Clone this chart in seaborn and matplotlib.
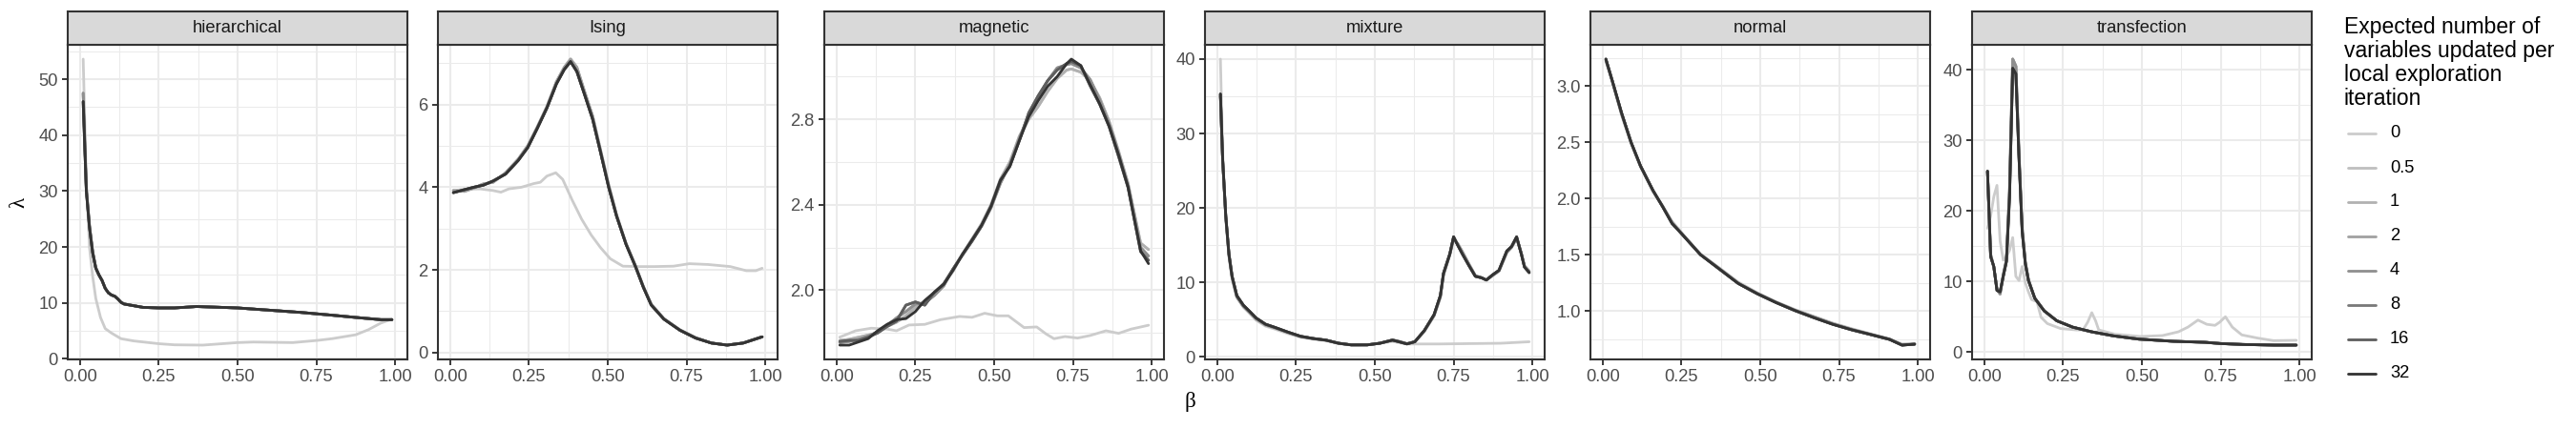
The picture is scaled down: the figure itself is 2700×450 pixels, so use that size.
import numpy as np
import pandas as pd
import matplotlib
matplotlib.use("Agg")
import matplotlib.pyplot as plt
import seaborn as sns
from matplotlib.lines import Line2D

sns.set_theme(style="white")
plt.rcParams['font.family'] = ['Liberation Sans', 'DejaVu Sans']

# ---------------- data ----------------
SERIES = ["0", "0.5", "1", "2", "4", "8", "16", "32"]
PANELS = ["hierarchical", "Ising", "magnetic", "mixture", "normal", "transfection"]
GREYS = ["#CCCCCC", "#BFBFBF", "#B1B1B1", "#A1A1A1", "#8F8F8F", "#797979", "#5E5E5E", "#333333"]
LEGEND_TITLE = "Expected number of\nvariables updated per\nlocal exploration\niteration"

# hierarchical
HIER_X0 = [0.01, 0.02, 0.03, 0.04, 0.05, 0.065, 0.08, 0.10, 0.13, 0.17, 0.25, 0.30, 0.39, 0.50, 0.55, 0.675, 0.755, 0.80, 0.875, 0.915, 0.955, 0.99]
HIER_Y0 = [53.6, 32.0, 20.0, 14.8, 10.8, 7.4, 5.4, 4.6, 3.6, 3.2, 2.7, 2.5, 2.45, 2.9, 3.0, 2.9, 3.3, 3.6, 4.3, 5.2, 6.4, 7.1]
HIER_X = [0.01, 0.02, 0.03, 0.04, 0.05, 0.06, 0.07, 0.08, 0.09, 0.10, 0.11, 0.12, 0.13, 0.14, 0.16, 0.18, 0.20, 0.25, 0.30, 0.37, 0.45, 0.50, 0.60, 0.70, 0.80, 0.875, 0.955, 0.99]
HIER_YMID = [47.5, 30.5, 23.8, 19.2, 16.3, 15.0, 14.0, 12.6, 11.8, 11.4, 11.2, 10.7, 10.1, 9.8, 9.6, 9.4, 9.2, 9.1, 9.1, 9.35, 9.2, 9.1, 8.7, 8.3, 7.8, 7.4, 7.0, 7.0]
HIER_Y32 = [46.0, 30.0, 23.5, 19.0, 16.2, 15.0, 14.0, 12.6, 11.8, 11.4, 11.2, 10.7, 10.1, 9.8, 9.6, 9.4, 9.2, 9.1, 9.1, 9.35, 9.2, 9.1, 8.7, 8.3, 7.8, 7.4, 7.0, 7.0]

# Ising
ISING_X0 = [0.01, 0.045, 0.095, 0.136, 0.161, 0.186, 0.226, 0.266, 0.286, 0.307, 0.335, 0.357, 0.387, 0.417, 0.447, 0.477, 0.508, 0.548, 0.598, 0.648, 0.709, 0.759, 0.819, 0.889, 0.94, 0.97, 0.99]
ISING_Y0 = [3.92, 3.95, 3.96, 3.92, 3.88, 3.96, 4.0, 4.09, 4.12, 4.27, 4.35, 4.19, 3.69, 3.23, 2.85, 2.54, 2.27, 2.09, 2.08, 2.08, 2.09, 2.15, 2.13, 2.08, 1.98, 1.98, 2.04]
ISING_X = [0.01, 0.045, 0.075, 0.105, 0.136, 0.176, 0.216, 0.246, 0.276, 0.307, 0.337, 0.362, 0.382, 0.402, 0.427, 0.452, 0.477, 0.503, 0.528, 0.558, 0.588, 0.613, 0.638, 0.678, 0.729, 0.779, 0.829, 0.879, 0.93, 0.99]
ISING_YMID = [3.92, 3.90, 3.98, 4.08, 4.12, 4.35, 4.68, 5.0, 5.45, 5.95, 6.55, 6.9, 7.1, 6.9, 6.3, 5.72, 4.9, 4.05, 3.33, 2.64, 2.1, 1.6, 1.17, 0.82, 0.55, 0.36, 0.23, 0.18, 0.23, 0.38]
ISING_Y32 = [3.87, 3.94, 4.0, 4.05, 4.15, 4.32, 4.65, 4.96, 5.42, 5.92, 6.5, 6.85, 7.04, 6.8, 6.23, 5.65, 4.85, 4.0, 3.3, 2.62, 2.08, 1.58, 1.15, 0.81, 0.54, 0.35, 0.23, 0.18, 0.23, 0.38]

# magnetic
MAG_X0 = [0.01, 0.06, 0.11, 0.16, 0.19, 0.23, 0.28, 0.33, 0.39, 0.43, 0.47, 0.51, 0.545, 0.595, 0.635, 0.665, 0.69, 0.725, 0.765, 0.805, 0.855, 0.895, 0.935, 0.99]
MAG_Y0 = [1.78, 1.81, 1.822, 1.818, 1.81, 1.837, 1.84, 1.862, 1.877, 1.873, 1.892, 1.88, 1.88, 1.825, 1.828, 1.795, 1.773, 1.783, 1.776, 1.788, 1.81, 1.798, 1.818, 1.836]
MAG_X = [0.01, 0.04, 0.07, 0.10, 0.13, 0.16, 0.19, 0.22, 0.25, 0.28, 0.31, 0.34, 0.37, 0.40, 0.43, 0.46, 0.49, 0.52, 0.55, 0.58, 0.61, 0.64, 0.67, 0.70, 0.73, 0.745, 0.775, 0.805, 0.835, 0.865, 0.895, 0.925, 0.945, 0.965, 0.99]
MAG_YA = [1.765, 1.77, 1.78, 1.79, 1.80, 1.83, 1.85, 1.88, 1.92, 1.95, 1.985, 2.03, 2.09, 2.17, 2.24, 2.31, 2.40, 2.52, 2.60, 2.72, 2.80, 2.86, 2.93, 2.99, 3.03, 3.035, 3.02, 2.98, 2.90, 2.79, 2.65, 2.50, 2.36, 2.22, 2.19]
MAG_YB = [1.755, 1.76, 1.77, 1.785, 1.805, 1.835, 1.87, 1.90, 1.935, 1.94, 1.975, 2.02, 2.10, 2.17, 2.23, 2.30, 2.385, 2.50, 2.59, 2.71, 2.82, 2.90, 2.98, 3.04, 3.055, 3.06, 3.04, 2.985, 2.89, 2.78, 2.64, 2.49, 2.34, 2.20, 2.16]
MAG_YC = [1.76, 1.765, 1.765, 1.78, 1.80, 1.83, 1.855, 1.93, 1.945, 1.93, 1.99, 2.03, 2.10, 2.165, 2.23, 2.30, 2.39, 2.515, 2.58, 2.70, 2.83, 2.91, 2.98, 3.03, 3.06, 3.07, 3.05, 2.955, 2.87, 2.765, 2.625, 2.48, 2.33, 2.18, 2.14]
MAG_Y32 = [1.743, 1.743, 1.758, 1.773, 1.81, 1.84, 1.862, 1.867, 1.90, 1.952, 1.99, 2.027, 2.094, 2.169, 2.236, 2.304, 2.393, 2.513, 2.58, 2.70, 2.812, 2.887, 2.954, 2.999, 3.059, 3.081, 3.051, 2.961, 2.872, 2.767, 2.633, 2.483, 2.333, 2.184, 2.124]

# mixture
MIX_X0 = [0.01, 0.017, 0.027, 0.037, 0.047, 0.062, 0.083, 0.103, 0.123, 0.153, 0.183, 0.224, 0.264, 0.304, 0.345, 0.385, 0.425, 0.476, 0.516, 0.556, 0.60, 0.70, 0.80, 0.90, 0.99]
MIX_Y0 = [40.0, 27.4, 18.5, 13.5, 10.5, 8.0, 6.7, 5.8, 4.9, 4.1, 3.7, 3.1, 2.6, 2.35, 2.15, 1.75, 1.55, 1.58, 1.8, 2.05, 1.7, 1.7, 1.75, 1.8, 2.0]
MIX_X = [0.01, 0.017, 0.027, 0.037, 0.047, 0.062, 0.083, 0.103, 0.123, 0.153, 0.183, 0.224, 0.264, 0.304, 0.345, 0.385, 0.425, 0.476, 0.516, 0.556, 0.577, 0.602, 0.627, 0.657, 0.688, 0.708, 0.718, 0.738, 0.75, 0.763, 0.778, 0.798, 0.819, 0.839, 0.854, 0.874, 0.894, 0.919, 0.934, 0.95, 0.965, 0.975, 0.99]
MIX_YMID = [35.0, 26.4, 18.7, 13.6, 10.6, 8.0, 6.7, 5.9, 5.05, 4.25, 3.85, 3.25, 2.7, 2.42, 2.2, 1.8, 1.58, 1.58, 1.8, 2.25, 2.05, 1.75, 2.0, 3.4, 5.5, 8.0, 11.0, 13.7, 15.8, 15.2, 14.1, 12.5, 10.9, 10.6, 10.3, 10.9, 11.5, 14.0, 14.7, 15.9, 13.9, 12.2, 11.5]
MIX_Y32 = [35.3, 26.6, 18.9, 13.8, 10.8, 8.2, 6.9, 6.07, 5.2, 4.36, 3.93, 3.3, 2.74, 2.44, 2.22, 1.8, 1.58, 1.58, 1.8, 2.22, 2.0, 1.71, 2.0, 3.5, 5.64, 8.2, 11.2, 13.8, 16.1, 15.0, 13.8, 12.3, 10.8, 10.6, 10.3, 11.0, 11.6, 14.2, 14.8, 16.1, 13.8, 12.05, 11.3]

# normal
NORM_X = [0.01, 0.03, 0.06, 0.09, 0.12, 0.16, 0.19, 0.22, 0.25, 0.31, 0.37, 0.43, 0.49, 0.55, 0.61, 0.67, 0.73, 0.79, 0.85, 0.91, 0.95, 0.99]
NORM_Y0 = [3.22, 3.04, 2.74, 2.49, 2.28, 2.06, 1.94, 1.80, 1.70, 1.51, 1.385, 1.26, 1.165, 1.085, 1.015, 0.955, 0.895, 0.845, 0.80, 0.755, 0.71, 0.715]
NORM_YMID = [3.23, 3.05, 2.75, 2.50, 2.29, 2.07, 1.93, 1.79, 1.69, 1.505, 1.38, 1.25, 1.16, 1.08, 1.01, 0.95, 0.89, 0.84, 0.795, 0.752, 0.70, 0.71]
NORM_Y32 = [3.24, 3.05, 2.76, 2.50, 2.29, 2.07, 1.93, 1.78, 1.69, 1.503, 1.375, 1.247, 1.156, 1.077, 1.006, 0.943, 0.884, 0.835, 0.793, 0.75, 0.699, 0.707]

# transfection
TRANS_X0 = [0.01, 0.02, 0.03, 0.04, 0.05, 0.06, 0.07, 0.08, 0.09, 0.10, 0.11, 0.12, 0.13, 0.14, 0.15, 0.167, 0.18, 0.20, 0.242, 0.293, 0.313, 0.328, 0.341, 0.353, 0.363, 0.414, 0.494, 0.565, 0.616, 0.646, 0.678, 0.706, 0.732, 0.747, 0.765, 0.787, 0.817, 0.868, 0.918, 0.99]
TRANS_Y0 = [17.5, 19.3, 22.0, 23.6, 15.7, 13.0, 13.5, 14.4, 16.2, 10.7, 10.1, 12.1, 9.8, 8.5, 7.4, 7.1, 4.9, 4.0, 3.3, 3.1, 3.1, 4.2, 5.55, 4.4, 3.1, 2.5, 2.17, 2.3, 2.84, 3.5, 4.5, 3.9, 3.75, 4.2, 4.97, 3.5, 2.4, 1.94, 1.58, 1.63]
TRANS_X = [0.01, 0.02, 0.03, 0.04, 0.05, 0.06, 0.07, 0.08, 0.09, 0.10, 0.11, 0.12, 0.13, 0.14, 0.16, 0.19, 0.23, 0.28, 0.34, 0.41, 0.49, 0.60, 0.70, 0.75, 0.82, 0.92, 0.99]
TRANS_YMID = [25.6, 13.8, 12.0, 8.9, 8.2, 10.9, 13.0, 23.0, 41.5, 40.5, 28.0, 17.5, 12.7, 10.2, 7.6, 5.8, 4.4, 3.5, 2.84, 2.26, 1.8, 1.49, 1.35, 1.17, 1.04, 0.95, 0.95]
TRANS_Y32 = [25.6, 13.5, 12.1, 8.7, 8.5, 10.7, 12.8, 22.0, 40.2, 39.4, 27.4, 17.1, 12.5, 10.1, 7.6, 5.8, 4.4, 3.5, 2.84, 2.26, 1.8, 1.49, 1.35, 1.17, 1.04, 0.95, 0.95]

PANEL_DATA = {
    "hierarchical": {"0": (HIER_X0, HIER_Y0), "0.5": (HIER_X, HIER_YMID), "1": (HIER_X, HIER_YMID),
                     "2": (HIER_X, HIER_YMID), "4": (HIER_X, HIER_YMID), "8": (HIER_X, HIER_Y32),
                     "16": (HIER_X, HIER_Y32), "32": (HIER_X, HIER_Y32)},
    "Ising": {"0": (ISING_X0, ISING_Y0), "0.5": (ISING_X, ISING_YMID), "1": (ISING_X, ISING_YMID),
              "2": (ISING_X, ISING_YMID), "4": (ISING_X, ISING_Y32), "8": (ISING_X, ISING_Y32),
              "16": (ISING_X, ISING_Y32), "32": (ISING_X, ISING_Y32)},
    "magnetic": {"0": (MAG_X0, MAG_Y0), "0.5": (MAG_X, MAG_YA), "1": (MAG_X, MAG_YA),
                 "2": (MAG_X, MAG_YB), "4": (MAG_X, MAG_YB), "8": (MAG_X, MAG_YC),
                 "16": (MAG_X, MAG_YC), "32": (MAG_X, MAG_Y32)},
    "mixture": {"0": (MIX_X0, MIX_Y0), "0.5": (MIX_X, MIX_YMID), "1": (MIX_X, MIX_YMID),
                "2": (MIX_X, MIX_YMID), "4": (MIX_X, MIX_Y32), "8": (MIX_X, MIX_Y32),
                "16": (MIX_X, MIX_Y32), "32": (MIX_X, MIX_Y32)},
    "normal": {"0": (NORM_X, NORM_Y0), "0.5": (NORM_X, NORM_YMID), "1": (NORM_X, NORM_YMID),
               "2": (NORM_X, NORM_YMID), "4": (NORM_X, NORM_Y32), "8": (NORM_X, NORM_Y32),
               "16": (NORM_X, NORM_Y32), "32": (NORM_X, NORM_Y32)},
    "transfection": {"0": (TRANS_X0, TRANS_Y0), "0.5": (TRANS_X, TRANS_YMID), "1": (TRANS_X, TRANS_YMID),
                     "2": (TRANS_X, TRANS_YMID), "4": (TRANS_X, TRANS_YMID), "8": (TRANS_X, TRANS_Y32),
                     "16": (TRANS_X, TRANS_Y32), "32": (TRANS_X, TRANS_Y32)},
}

Y_TICKS = {
    "hierarchical": ([0, 10, 20, 30, 40, 50], ["0", "10", "20", "30", "40", "50"]),
    "Ising": ([0, 2, 4, 6], ["0", "2", "4", "6"]),
    "magnetic": ([2.0, 2.4, 2.8], ["2.0", "2.4", "2.8"]),
    "mixture": ([0, 10, 20, 30, 40], ["0", "10", "20", "30", "40"]),
    "normal": ([1.0, 1.5, 2.0, 2.5, 3.0], ["1.0", "1.5", "2.0", "2.5", "3.0"]),
    "transfection": ([0, 10, 20, 30, 40], ["0", "10", "20", "30", "40"]),
}
X_TICKS = [0.0, 0.25, 0.5, 0.75, 1.0]
X_TICKLABELS = ["0.00", "0.25", "0.50", "0.75", "1.00"]

rows = []
for p in PANELS:
    for s in SERIES:
        xs, ys = PANEL_DATA[p][s]
        for xv, yv in zip(xs, ys):
            rows.append({"panel": p, "series": s, "beta": xv, "lam": yv})
df = pd.DataFrame(rows)

# ---------------- layout ----------------
W, H = 2700, 450
fig = plt.figure(figsize=(18, 3), dpi=150)
fig.patch.set_facecolor("white")

PANEL_LEFT_PX = [71, 459, 864, 1263, 1667, 2067]
PANEL_W_PX = 356
PANEL_TOP_PX, PANEL_BOT_PX, STRIP_TOP_PX = 47, 377, 12

DARK = "#333333"
GRID = "#EBEBEB"

for p, lpx in zip(PANELS, PANEL_LEFT_PX):
    ax = fig.add_axes([lpx / W, 1 - PANEL_BOT_PX / H, PANEL_W_PX / W, (PANEL_BOT_PX - PANEL_TOP_PX) / H])
    sub = df[df["panel"] == p]
    sns.lineplot(data=sub, x="beta", y="lam", hue="series", hue_order=SERIES, palette=GREYS,
                 estimator=None, sort=False, linewidth=1.35, legend=False, ax=ax, zorder=3)
    xmin, xmax = sub["beta"].min(), sub["beta"].max()
    ymin, ymax = sub["lam"].min(), sub["lam"].max()
    xr, yr = xmax - xmin, ymax - ymin
    ax.set_xlim(xmin - 0.05 * xr, xmax + 0.05 * xr)
    ax.set_ylim(ymin - 0.05 * yr, ymax + 0.05 * yr)
    ax.set_xticks(X_TICKS)
    ax.set_xticklabels(X_TICKLABELS)
    yt, ytl = Y_TICKS[p]
    ax.set_yticks(yt)
    ax.set_yticklabels(ytl)
    ax.set_xticks([0.125, 0.375, 0.625, 0.875], minor=True)
    ystep = yt[1] - yt[0]
    lo, hi = ax.get_ylim()
    minors = [t + ystep / 2 for t in [yt[0] - ystep] + list(yt)]
    ax.set_yticks([m for m in minors if lo <= m <= hi], minor=True)
    ax.grid(which="major", color=GRID, linewidth=1.0, zorder=0)
    ax.grid(which="minor", color=GRID, linewidth=0.5, zorder=0)
    ax.set_axisbelow(True)
    ax.tick_params(which="major", direction="out", length=2.75, width=0.9, color=DARK,
                   labelsize=8.8, labelcolor="#4D4D4D", pad=2.2, left=True, bottom=True)
    ax.tick_params(which="minor", length=0)
    for sp in ax.spines.values():
        sp.set_color(DARK)
        sp.set_linewidth(1.0)
        sp.set_visible(True)
    ax.set_xlabel("")
    ax.set_ylabel("")
    ax.set_facecolor("white")

    # strip
    sax = fig.add_axes([lpx / W, 1 - PANEL_TOP_PX / H, PANEL_W_PX / W, (PANEL_TOP_PX - STRIP_TOP_PX) / H])
    sax.set_facecolor("#D9D9D9")
    sax.set_xticks([])
    sax.set_yticks([])
    for sp in sax.spines.values():
        sp.set_color(DARK)
        sp.set_linewidth(1.0)
    sax.text(0.5, 0.5, p, ha="center", va="center", fontsize=8.8, color="#1A1A1A", transform=sax.transAxes)

# axis titles
fig.text(20 / W, 1 - 212 / H, "λ", rotation=90, ha="center", va="center", fontsize=11,
         family=["Liberation Serif", "DejaVu Serif"], color="black")
fig.text(1247 / W, 1 - 422 / H, "β", ha="center", va="center", fontsize=11,
         family=["Liberation Serif", "DejaVu Serif"], color="black")

# legend
fig.text(2457 / W, 1 - 17 / H, LEGEND_TITLE, ha="left", va="top", fontsize=11, color="black", linespacing=1.12)
for i, (s, c) in enumerate(zip(SERIES, GREYS)):
    ypx = 140 + 36 * i
    fig.add_artist(Line2D([2461 / W, 2490 / W], [1 - ypx / H, 1 - ypx / H], color=c, linewidth=1.35,
                          transform=fig.transFigure))
    fig.text(2505 / W, 1 - ypx / H, s, ha="left", va="center", fontsize=8.8, color="black")

fig.savefig("out.png", dpi=150, facecolor="white")
